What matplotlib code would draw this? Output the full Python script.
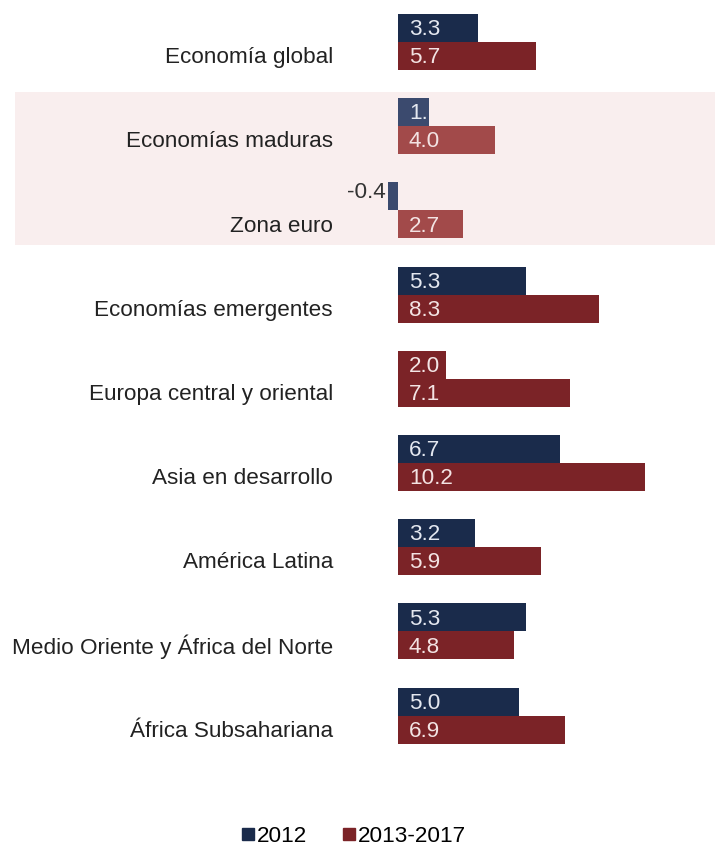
import matplotlib
matplotlib.use('Agg')
import matplotlib.pyplot as plt
from matplotlib.lines import Line2D

plt.rcParams['font.family'] = ['Liberation Sans', 'DejaVu Sans']

categories = ['Economía global', 'Economías maduras', 'Zona euro',
              'Economías emergentes', 'Europa central y oriental',
              'Asia en desarrollo', 'América Latina',
              'Medio Oriente y África del Norte', 'África Subsahariana']
vals_2012 = [3.3, 1.3, -0.4, 5.3, 2.0, 6.7, 3.2, 5.3, 5.0]
vals_1317 = [5.7, 4.0, 2.7, 8.3, 7.1, 10.2, 5.9, 4.8, 6.9]
labels_2012 = ['3.3', '1.', '-0.4', '5.3', '2.0', '6.7', '3.2', '5.3', '5.0']
series = ['2012', '2013-2017']
shaded_rows = [1, 2]

NAVY = '#1a2b4b'
RED = '#7b2327'
NAVY_L = '#3b4a6e'
RED_L = '#a24a4a'
FS = 16.2

W, H = 715, 848
fig = plt.figure(figsize=(W / 100, H / 100), dpi=100)

# axes: x zero at px 398, 24.2 px per unit; rows 84.2 px apart, first centre at px 42
px_unit = 24.2
x0_px = 398
left_px, right_px = 15, 715
top_px, bot_px = 0, 770
ax = fig.add_axes([left_px / W, 1 - bot_px / H, (right_px - left_px) / W, (bot_px - top_px) / H])
ax.set_xlim(-(x0_px - left_px) / px_unit, (right_px - x0_px) / px_unit)
row_px = 84.2
ax.set_ylim((bot_px - 42) / row_px, (top_px - 42) / row_px)
ax.axis('off')

bh = 28 / row_px
ax.axhspan(shaded_rows[0] - 0.5 * 68 / row_px, shaded_rows[-1] + 0.5 * 68 / row_px + 0.005,
           color='#f9eeee', zorder=0, lw=0)

for i, cat in enumerate(categories):
    shaded = i in shaded_rows
    c1 = NAVY_L if shaded else NAVY
    c2 = RED_L if shaded else RED
    if i == 4:
        c1 = RED
    y1 = i - bh / 2
    y2 = i + bh / 2
    ax.barh(y1, vals_2012[i], height=bh, color=c1, zorder=2, lw=0)
    ax.barh(y2, vals_1317[i], height=bh, color=c2, zorder=2, lw=0)

    tc1 = '#f3e6e6' if i == 4 else '#e4e8f0'
    if vals_2012[i] >= 0:
        ax.text(0.45, y1 + 0.02, labels_2012[i], color=tc1, fontsize=FS,
                ha='left', va='center', zorder=3)
    else:
        ax.text(vals_2012[i] - 0.1, y1 - 0.05, labels_2012[i], color='#333333',
                fontsize=FS, ha='right', va='center', zorder=3)
    ax.text(0.45, y2 + 0.02, '%.1f' % vals_1317[i], color='#f3e3e3', fontsize=FS,
            ha='left', va='center', zorder=3)

    ax.text(-65 / px_unit, y2 + 0.02, cat, color='#222222', fontsize=FS,
            ha='right', va='center', zorder=3)

handles = [Line2D([], [], marker='s', ls='', color=NAVY, markersize=8),
           Line2D([], [], marker='s', ls='', color=RED, markersize=8)]
fig.legend(handles, series, loc='center', bbox_to_anchor=(0.495, 1 - 836 / H),
           ncol=2, frameon=False, fontsize=FS, handlelength=0.5,
           handletextpad=0.15, columnspacing=1.6, borderpad=0)

fig.savefig('out.png', dpi=100)
